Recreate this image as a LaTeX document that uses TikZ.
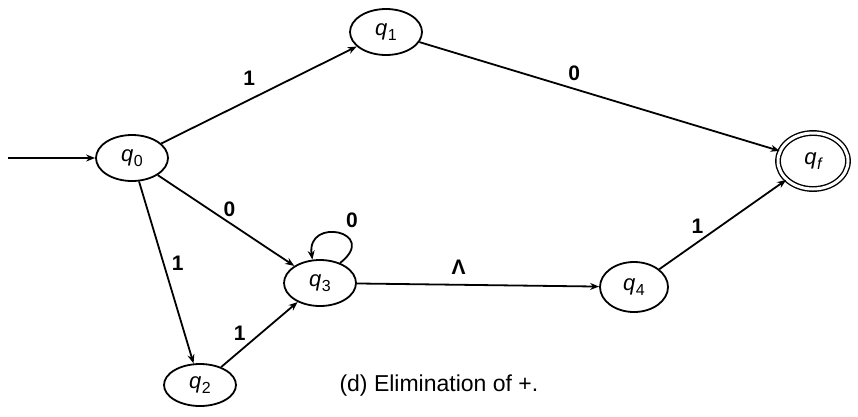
\documentclass[tikz,border=0pt]{standalone}
\usepackage{fontspec}
\setsansfont{Liberation Sans}
\usetikzlibrary{shapes.geometric,arrows.meta}
\newcommand{\stq}[1]{{\sffamily\fontsize{22}{24}\selectfont\itshape q\kern0.5pt\raisebox{-5pt}{\fontsize{16}{16}\selectfont #1}}}
\begin{document}
\begin{tikzpicture}[x=1pt,y=-1pt,
  state/.style={ellipse,draw,line width=1.8pt,minimum width=72pt,minimum height=46pt,inner sep=0pt},
  final/.style={state,double,double distance=3pt,line width=1.4pt,minimum width=70pt,minimum height=56pt},
  edge/.style={line width=1.8pt,-{Stealth[length=9pt,width=7pt]}},
  lbl/.style={font=\sffamily\bfseries\fontsize{21}{23}\selectfont}]
\useasboundingbox (0,0) rectangle (858,416);
\node[state] (q0) at (132,158) {\stq{\upshape 0}};
\node[state] (q1) at (386,32) {\stq{\upshape 1}};
\node[final] (qf) at (813,161) {\stq{f}};
\node[state] (q3) at (320,283) {\stq{\upshape 3}};
\node[state,minimum height=42pt] (q2) at (200,385) {\stq{\upshape 2}};
\node[state,minimum width=68pt,minimum height=50pt] (q4) at (634,287) {\stq{\upshape 4}};
\coordinate (start) at (8,158);
\draw[edge] (start) -- (q0);
\draw[edge] (q0) -- node[lbl,above,pos=0.45,yshift=10pt] {1} (q1);
\draw[edge] (q1) -- node[lbl,above,pos=0.43,yshift=4pt] {0} (qf);
\draw[edge] (q0) -- node[lbl,above right,pos=0.48,xshift=-4pt,yshift=-2pt] {0} (q3);
\draw[edge] (q0) -- node[lbl,right,pos=0.45,xshift=4pt] {1} (q2);
\draw[edge] (q2) -- node[lbl,above left,pos=0.35,xshift=2pt] {1} (q3);
\draw[edge] (q3) -- node[lbl,above,pos=0.42,yshift=6pt] {Λ} (q4);
\draw[edge] (q4) -- node[lbl,above left,pos=0.38,yshift=-2pt] {1} (qf);
\draw[edge] (q3.45) .. controls (380,232) and (306,216) .. (q3.108);
\node[lbl] (l0) at (352,220) {0};
\node[font=\sffamily\fontsize{23}{25}\selectfont,anchor=west] (cap) at (336,386) {(d) Elimination of +.};
\end{tikzpicture}
\end{document}
